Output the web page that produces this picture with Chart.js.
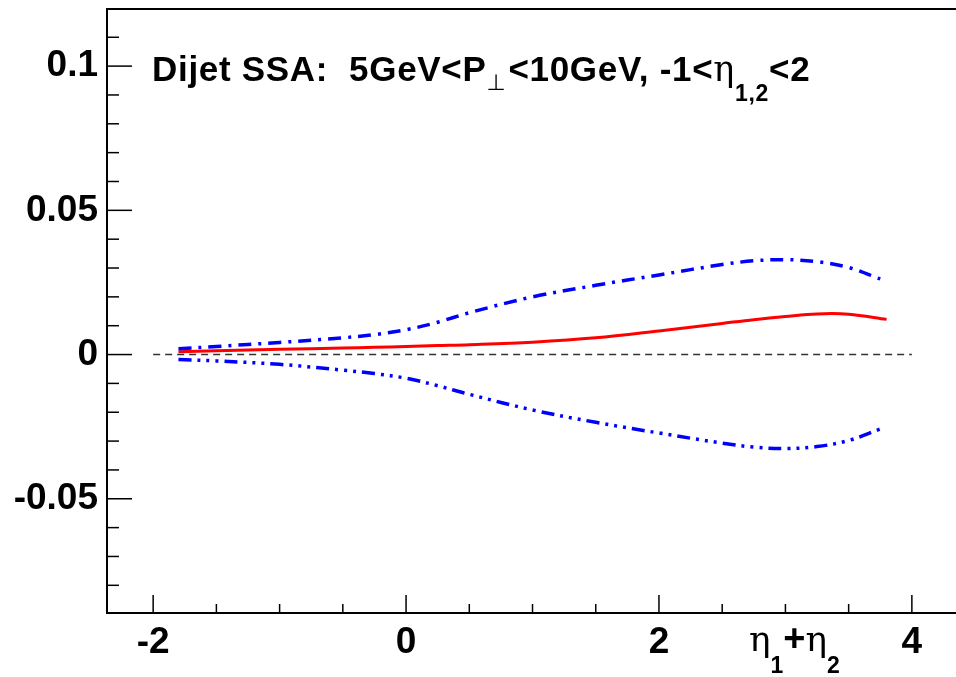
<!DOCTYPE html>
<html>
<head>
<meta charset="utf-8">
<script src="https://cdn.jsdelivr.net/npm/chart.js@4/dist/chart.umd.min.js"></script>
<style>
  html, body { margin: 0; padding: 0; background: #fff; overflow: hidden; }
  #wrap { width: 956px; height: 677px; }
</style>
</head>
<body>
<div id="wrap"><canvas id="ssa-chart"></canvas></div>
<script>
const etaSum = [-1.8, -1.5, -1, -0.5, -0.25, 0, 0.25, 0.5, 1, 1.5, 2, 2.5, 2.75, 3, 3.25, 3.5, 3.75];
const etaSumRed = [-1.8, -1.5, -1, -0.5, -0.25, 0, 0.25, 0.5, 1, 1.5, 2, 2.5, 2.75, 3, 3.25, 3.5, 3.8];
const ssaCentral = [0.001, 0.0013, 0.0018, 0.0023, 0.0025, 0.0028, 0.0031, 0.0034, 0.0043, 0.0058, 0.0082, 0.0108, 0.0121, 0.0132, 0.0141, 0.0140, 0.0122];
const ssaUpper = [0.002, 0.0028, 0.0042, 0.0058, 0.0069, 0.0086, 0.0112, 0.0145, 0.0200, 0.0240, 0.0276, 0.0312, 0.0325, 0.0329, 0.0322, 0.0302, 0.0262];
const ssaLower = [-0.0017, -0.0022, -0.0034, -0.0054, -0.0066, -0.0082, -0.0108, -0.0138, -0.0192, -0.0235, -0.0272, -0.0307, -0.0321, -0.0326, -0.0319, -0.0298, -0.0258];
const zeroEta = [-2, 4];
const zeroVal = [0, 0];

const xTicks = [-2, 0, 2, 4];
const yTicks = [-0.05, 0, 0.05, 0.1];

function pts(xs, ys) {
    return xs.map((x, i) => ({ x: x, y: ys[i] }));
}

const boldFont = '"Liberation Sans", Arial, sans-serif';

// ROOT style frame: top line, inward ticks, titles with subscripts
const rootFrame = {
    id: 'rootFrame',
    afterDraw(chart) {
        const c = chart.ctx;
        const a = chart.chartArea;
        const xs = chart.scales.x;
        const ys = chart.scales.y;
        c.save();
        c.strokeStyle = '#000';
        c.lineWidth = 2;
        c.beginPath();
        c.moveTo(a.left, a.top);
        c.lineTo(a.right, a.top);
        c.stroke();

        // y ticks (minor every 0.01)
        c.lineWidth = 1.5;
        for (let k = -9; k <= 12; k++) {
            const v = k / 100;
            const y = ys.getPixelForValue(v);
            if (y < a.top + 1 || y > a.bottom - 1) continue;
            const len = (k % 5 === 0) ? 25 : 12;
            c.beginPath();
            c.moveTo(a.left, y);
            c.lineTo(a.left + len, y);
            c.stroke();
        }
        // x ticks (minor every 0.5)
        for (let k = -4; k <= 8; k++) {
            const v = k / 2;
            const x = xs.getPixelForValue(v);
            if (x < a.left || x > a.right) continue;
            const len = (k % 4 === 0) ? 18 : 9;
            c.beginPath();
            c.moveTo(x, a.bottom);
            c.lineTo(x, a.bottom - len);
            c.stroke();
        }

        c.fillStyle = '#000';
        c.textBaseline = 'alphabetic';
        c.textAlign = 'left';
        // pieces: [text, font, dy, extra gap]
        function run(x, y, parts, spacing) {
            c.letterSpacing = spacing || '0px';
            parts.forEach(p => {
                c.font = p[1];
                c.fillText(p[0], x, y + p[2]);
                x += c.measureText(p[0]).width + (p[3] || 0);
            });
        }
        const big = 'bold 35px ' + boldFont;
        const sub = 'bold 23px ' + boldFont;
        const greek = '35px "DejaVu Serif", serif';
        run(152, 81, [
            ['Dijet SSA:  5GeV<P', big, 0],
            ['\u22A5', '22px "DejaVu Sans", sans-serif', 9, 2],
            ['<10GeV, -1<', big, 0],
            ['\u03B7', greek, 0],
            ['1,2', sub, 20],
            ['<2', big, 0]
        ], '0.7px');
        run(749, 651, [
            ['\u03B7', '36px "DejaVu Serif", serif', 0],
            ['1', sub, 22],
            ['+', 'bold 38px ' + boldFont, 0],
            ['\u03B7', '36px "DejaVu Serif", serif', 0],
            ['2', sub, 22]
        ], '0px');
        c.restore();
    }
};

const ctx = document.getElementById('ssa-chart');

const ssaChart = new Chart(ctx, {
    type: 'line',
    data: {
        datasets: [{
            label: 'zero',
            data: pts(zeroEta, zeroVal),
            borderColor: '#333',
            borderWidth: 1.5,
            borderDash: [7, 5],
            pointRadius: 0
        }, {
            label: 'upper',
            data: pts(etaSum, ssaUpper),
            borderColor: 'rgb(0, 0, 255)',
            borderWidth: 3.5,
            borderDash: [13, 7, 3, 7],
            pointRadius: 0,
            tension: 0.35
        }, {
            label: 'lower',
            data: pts(etaSum, ssaLower),
            borderColor: 'rgb(0, 0, 255)',
            borderWidth: 3.5,
            borderDash: [13, 6, 3, 6, 3, 6, 3, 6],
            pointRadius: 0,
            tension: 0.35
        }, {
            label: 'central',
            data: pts(etaSumRed, ssaCentral),
            borderColor: 'rgb(255, 0, 0)',
            borderWidth: 3,
            pointRadius: 0,
            tension: 0.35
        }]
    },
    options: {
        responsive: true,
        maintainAspectRatio: false,
        animation: false,
        parsing: false,
        layout: { padding: { top: 9, right: 0, left: 0, bottom: 0 } },
        plugins: {
            legend: { display: false },
            tooltip: { enabled: false }
        },
        scales: {
            x: {
                type: 'linear',
                min: -2.365,
                max: 4.349,
                afterBuildTicks: s => { s.ticks = xTicks.map(v => ({ value: v })); },
                afterFit: s => { s.height = 64; s.paddingLeft = 0; s.paddingRight = 0; },
                grid: { display: false, drawTicks: false },
                border: { display: true, color: '#000', width: 2 },
                ticks: {
                    color: '#000',
                    padding: 8,
                    maxRotation: 0,
                    font: { family: boldFont, size: 37, weight: 'bold' },
                    callback: v => String(v)
                }
            },
            y: {
                type: 'linear',
                min: -0.0896,
                max: 0.1198,
                afterBuildTicks: s => { s.ticks = yTicks.map(v => ({ value: v })); },
                afterFit: s => { s.width = 107; s.paddingTop = 0; s.paddingBottom = 0; },
                grid: { display: false, drawTicks: false },
                border: { display: true, color: '#000', width: 2 },
                ticks: {
                    color: '#000',
                    padding: 9,
                    font: { family: boldFont, size: 37, weight: 'bold' },
                    callback: v => String(v)
                }
            }
        }
    },
    plugins: [rootFrame]
});
</script>
</body>
</html>
